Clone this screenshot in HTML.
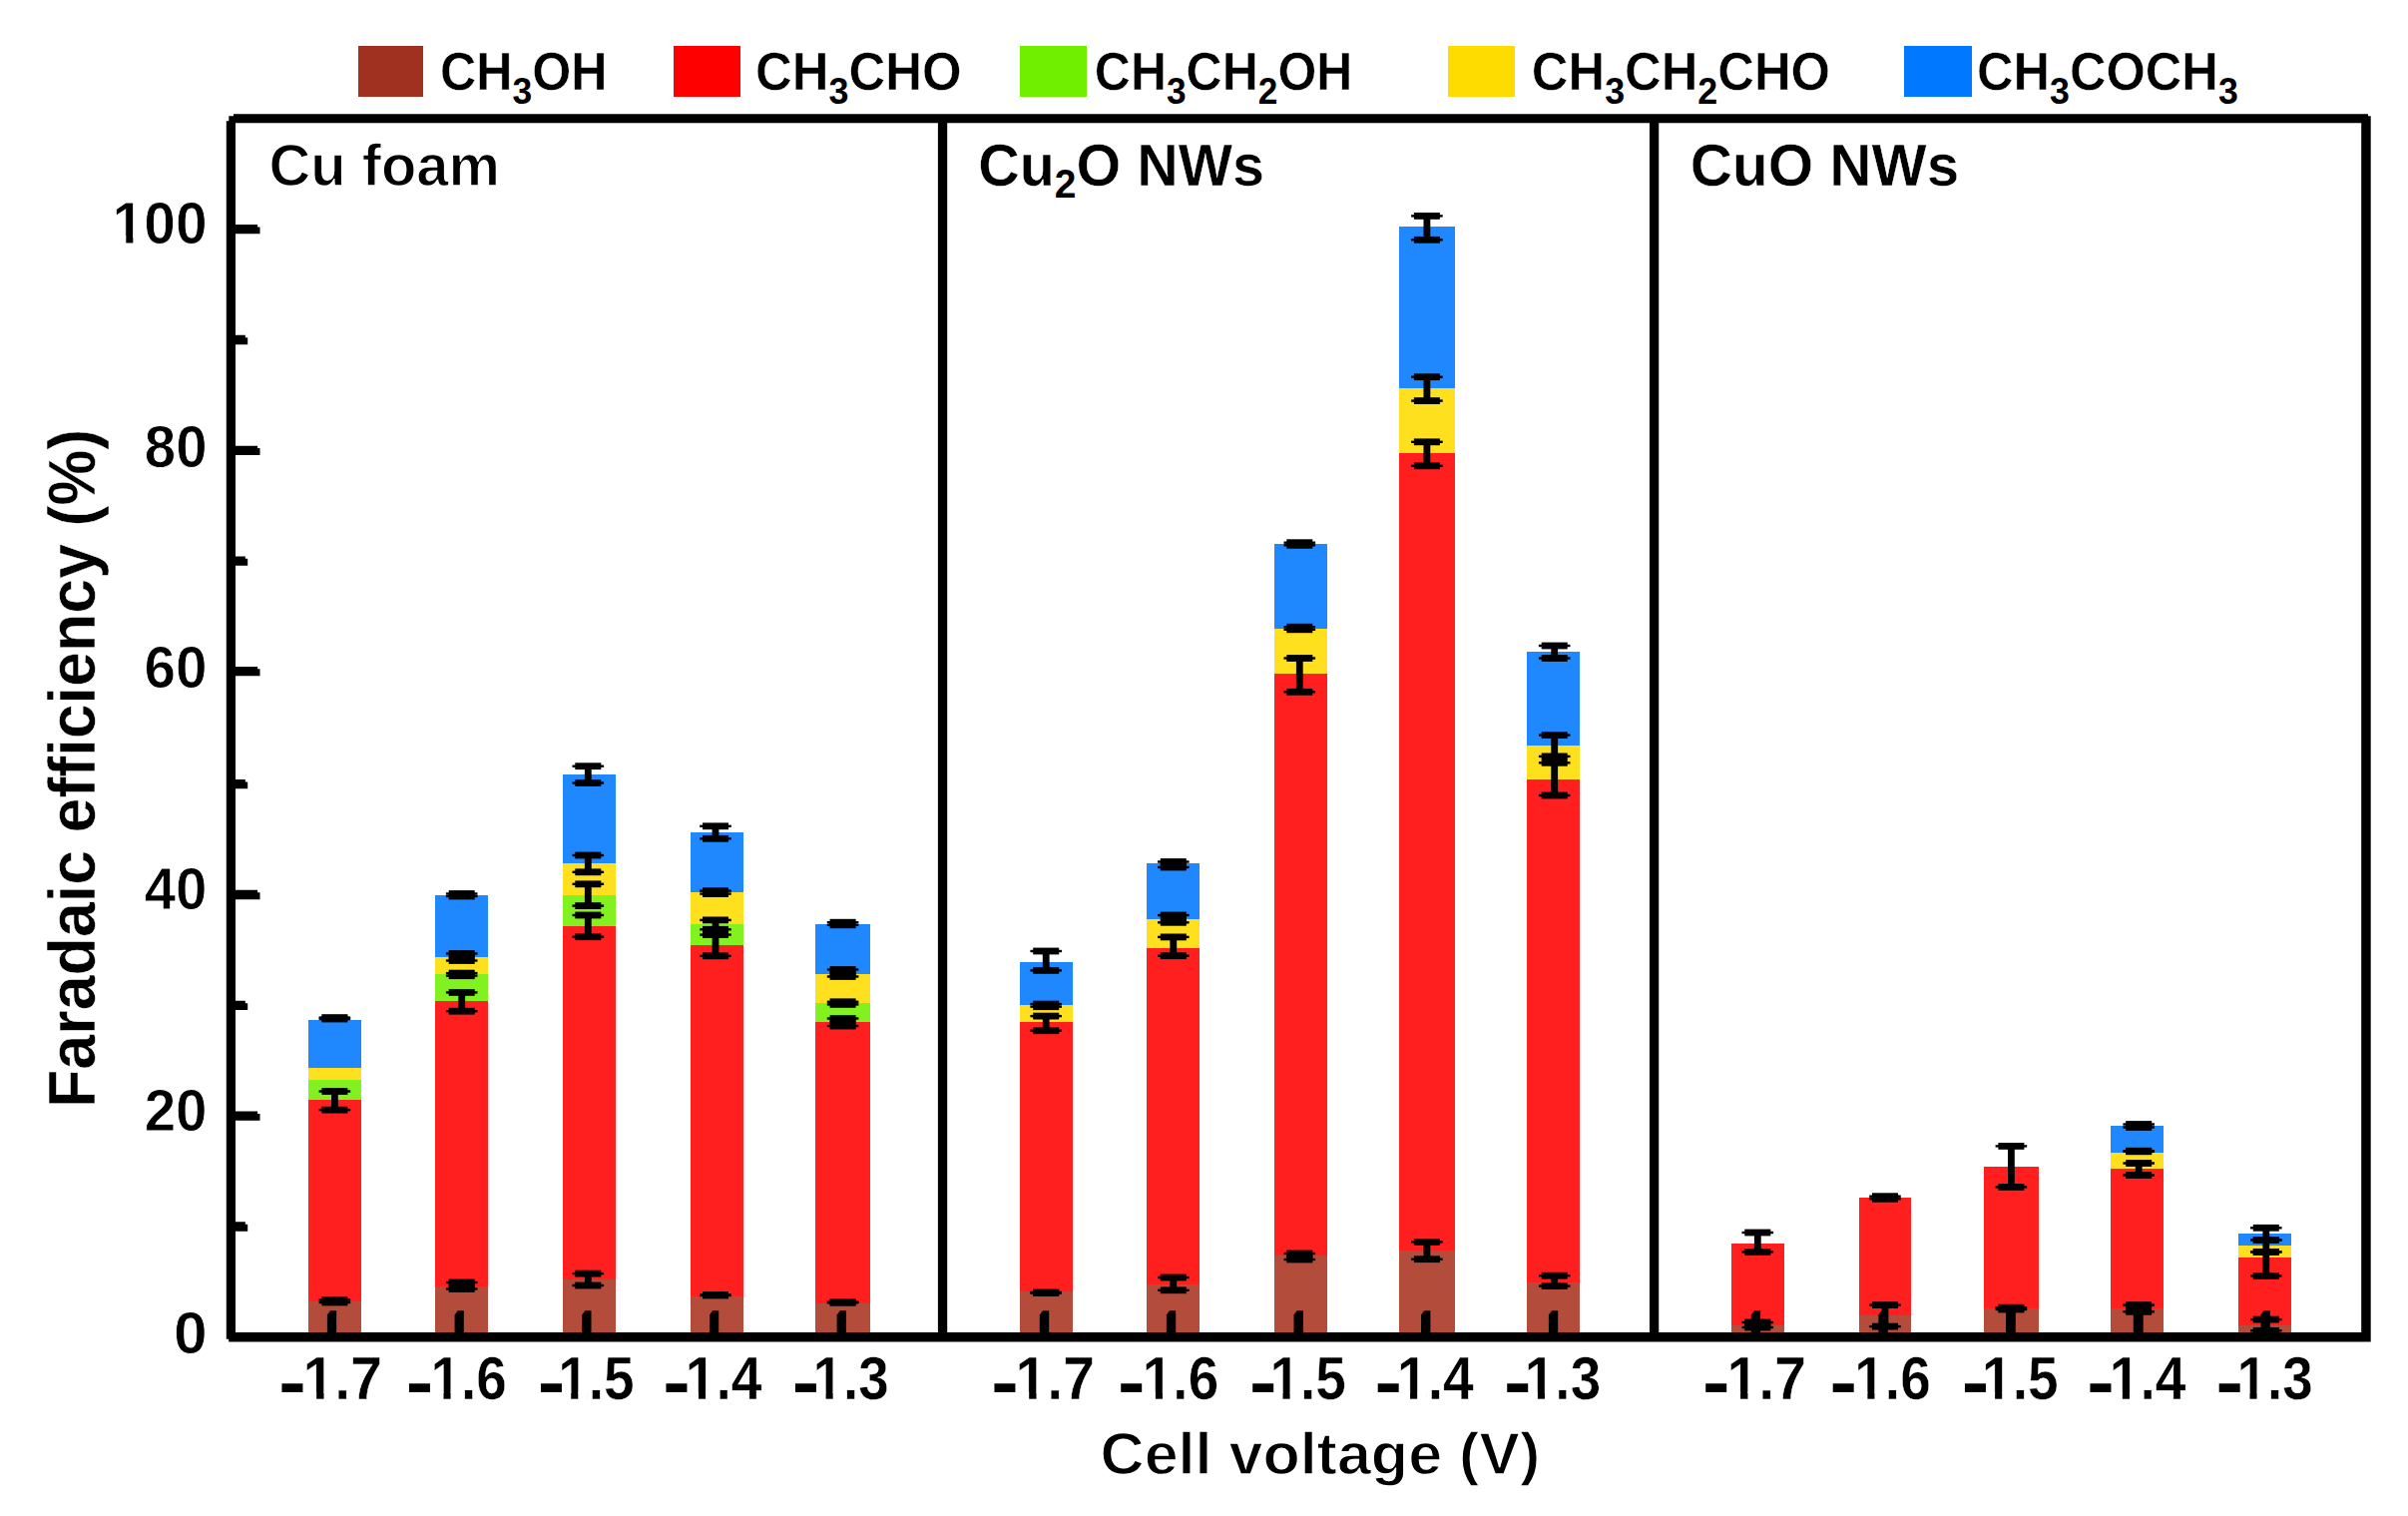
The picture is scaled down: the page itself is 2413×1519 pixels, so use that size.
<!DOCTYPE html>
<html lang="en"><head><meta charset="utf-8"><title>Faradaic efficiency chart</title><style>html,body{margin:0;padding:0;background:#fff}svg{display:block}</style></head><body>
<svg width="2413" height="1519" viewBox="0 0 2413 1519" font-family="'Liberation Sans', sans-serif" font-weight="bold" fill="#000" style="font-kerning:none">
<rect width="2413" height="1519" fill="#fff"/>
<g shape-rendering="crispEdges">
<rect x="308.7" y="1303.7" width="52.9" height="36.0" fill="#B34C3B"/>
<rect x="308.7" y="1101.5" width="52.9" height="202.2" fill="#FF1F1F"/>
<rect x="308.7" y="1082.1" width="52.9" height="19.4" fill="#81F21F"/>
<rect x="308.7" y="1069.8" width="52.9" height="12.3" fill="#FFE01F"/>
<rect x="308.7" y="1021.7" width="52.9" height="48.1" fill="#1F88FF"/>
<rect x="436.3" y="1289.4" width="52.9" height="50.3" fill="#B34C3B"/>
<rect x="436.3" y="1002.6" width="52.9" height="286.8" fill="#FF1F1F"/>
<rect x="436.3" y="976.0" width="52.9" height="26.6" fill="#81F21F"/>
<rect x="436.3" y="959.3" width="52.9" height="16.7" fill="#FFE01F"/>
<rect x="436.3" y="896.8" width="52.9" height="62.5" fill="#1F88FF"/>
<rect x="563.9" y="1282.2" width="53.1" height="57.5" fill="#B34C3B"/>
<rect x="563.9" y="927.9" width="53.1" height="354.3" fill="#FF1F1F"/>
<rect x="563.9" y="896.6" width="53.1" height="31.3" fill="#81F21F"/>
<rect x="563.9" y="865.1" width="53.1" height="31.5" fill="#FFE01F"/>
<rect x="563.9" y="776.0" width="53.1" height="89.1" fill="#1F88FF"/>
<rect x="691.7" y="1298.9" width="53.0" height="40.8" fill="#B34C3B"/>
<rect x="691.7" y="947.2" width="53.0" height="351.7" fill="#FF1F1F"/>
<rect x="691.7" y="925.6" width="53.0" height="21.6" fill="#81F21F"/>
<rect x="691.7" y="894.1" width="53.0" height="31.5" fill="#FFE01F"/>
<rect x="691.7" y="833.8" width="53.0" height="60.3" fill="#1F88FF"/>
<rect x="816.9" y="1306.1" width="55.1" height="33.6" fill="#B34C3B"/>
<rect x="816.9" y="1024.1" width="55.1" height="282.0" fill="#FF1F1F"/>
<rect x="816.9" y="1005.0" width="55.1" height="19.1" fill="#81F21F"/>
<rect x="816.9" y="976.0" width="55.1" height="29.0" fill="#FFE01F"/>
<rect x="816.9" y="925.5" width="55.1" height="50.5" fill="#1F88FF"/>
<rect x="1021.6" y="1294.2" width="53.2" height="45.5" fill="#B34C3B"/>
<rect x="1021.6" y="1024.2" width="53.2" height="270.0" fill="#FF1F1F"/>
<rect x="1021.6" y="1007.4" width="53.2" height="16.8" fill="#FFE01F"/>
<rect x="1021.6" y="963.9" width="53.2" height="43.5" fill="#1F88FF"/>
<rect x="1149.2" y="1287.0" width="52.9" height="52.7" fill="#B34C3B"/>
<rect x="1149.2" y="949.5" width="52.9" height="337.5" fill="#FF1F1F"/>
<rect x="1149.2" y="920.5" width="52.9" height="29.0" fill="#FFE01F"/>
<rect x="1149.2" y="865.2" width="52.9" height="55.3" fill="#1F88FF"/>
<rect x="1277.0" y="1258.0" width="52.9" height="81.7" fill="#B34C3B"/>
<rect x="1277.0" y="675.0" width="52.9" height="583.0" fill="#FF1F1F"/>
<rect x="1277.0" y="629.5" width="52.9" height="45.5" fill="#FFE01F"/>
<rect x="1277.0" y="545.0" width="52.9" height="84.5" fill="#1F88FF"/>
<rect x="1402.2" y="1253.2" width="55.6" height="86.5" fill="#B34C3B"/>
<rect x="1402.2" y="453.8" width="55.6" height="799.4" fill="#FF1F1F"/>
<rect x="1402.2" y="388.6" width="55.6" height="65.2" fill="#FFE01F"/>
<rect x="1402.2" y="227.0" width="55.6" height="161.6" fill="#1F88FF"/>
<rect x="1530.0" y="1284.6" width="53.0" height="55.1" fill="#B34C3B"/>
<rect x="1530.0" y="781.0" width="53.0" height="503.6" fill="#FF1F1F"/>
<rect x="1530.0" y="747.2" width="53.0" height="33.8" fill="#FFE01F"/>
<rect x="1530.0" y="653.2" width="53.0" height="94.0" fill="#1F88FF"/>
<rect x="1734.9" y="1327.7" width="52.9" height="12.0" fill="#B34C3B"/>
<rect x="1734.9" y="1246.0" width="52.9" height="81.7" fill="#FF1F1F"/>
<rect x="1862.5" y="1318.4" width="52.9" height="21.3" fill="#B34C3B"/>
<rect x="1862.5" y="1199.8" width="52.9" height="118.6" fill="#FF1F1F"/>
<rect x="1988.0" y="1311.0" width="55.0" height="28.7" fill="#B34C3B"/>
<rect x="1988.0" y="1168.8" width="55.0" height="142.2" fill="#FF1F1F"/>
<rect x="2115.4" y="1311.0" width="53.0" height="28.7" fill="#B34C3B"/>
<rect x="2115.4" y="1171.2" width="53.0" height="139.8" fill="#FF1F1F"/>
<rect x="2115.4" y="1154.5" width="53.0" height="16.7" fill="#FFE01F"/>
<rect x="2115.4" y="1128.0" width="53.0" height="26.5" fill="#1F88FF"/>
<rect x="2243.0" y="1327.8" width="52.8" height="11.9" fill="#B34C3B"/>
<rect x="2243.0" y="1260.4" width="52.8" height="67.4" fill="#FF1F1F"/>
<rect x="2243.0" y="1248.4" width="52.8" height="12.0" fill="#FFE01F"/>
<rect x="2243.0" y="1236.0" width="52.8" height="12.4" fill="#1F88FF"/>
</g>
<path d="M327.9 1339.7 V1317.5 L331.0 1313.3 H337.1 V1339.7 Z"/>
<path d="M455.6 1339.7 V1317.5 L458.7 1313.3 H464.8 V1339.7 Z"/>
<path d="M583.2 1339.7 V1317.5 L586.4 1313.3 H592.5 V1339.7 Z"/>
<path d="M711.0 1339.7 V1317.5 L714.1 1313.3 H720.2 V1339.7 Z"/>
<path d="M838.6 1339.7 V1317.5 L841.8 1313.3 H847.9 V1339.7 Z"/>
<path d="M1041.8 1339.7 V1317.5 L1045.0 1313.3 H1051.2 V1339.7 Z"/>
<path d="M1168.9 1339.7 V1317.5 L1172.1 1313.3 H1178.2 V1339.7 Z"/>
<path d="M1296.5 1339.7 V1317.5 L1299.7 1313.3 H1305.9 V1339.7 Z"/>
<path d="M1424.0 1339.7 V1317.5 L1427.2 1313.3 H1433.4 V1339.7 Z"/>
<path d="M1551.9 1339.7 V1317.5 L1555.1 1313.3 H1561.2 V1339.7 Z"/>
<path d="M1754.8 1339.7 V1317.5 L1757.9 1313.3 H1764.1 V1339.7 Z"/>
<path d="M1882.4 1339.7 V1317.5 L1885.6 1313.3 H1891.8 V1339.7 Z"/>
<path d="M2010.1 1339.7 V1317.5 L2013.3 1313.3 H2019.5 V1339.7 Z"/>
<path d="M2137.8 1339.7 V1317.5 L2141.0 1313.3 H2147.2 V1339.7 Z"/>
<path d="M2265.5 1339.7 V1317.5 L2268.7 1313.3 H2274.8 V1339.7 Z"/>
<g>
<rect x="322.4" y="1016.2" width="26" height="6.8"/><rect x="319.6" y="1018.4" width="31.6" height="2.4"/><rect x="322.4" y="1017.6" width="26" height="6.8"/><rect x="319.6" y="1019.8" width="31.6" height="2.4"/><rect x="322.4" y="1019.6" width="26" height="1.4"/>
<rect x="322.4" y="1090.1" width="26" height="6.8"/><rect x="319.6" y="1092.3" width="31.6" height="2.4"/><rect x="322.4" y="1108.7" width="26" height="6.8"/><rect x="319.6" y="1110.9" width="31.6" height="2.4"/><rect x="332.0" y="1093.5" width="6.8" height="18.6"/>
<rect x="322.4" y="1299.0" width="26" height="6.8"/><rect x="319.6" y="1301.2" width="31.6" height="2.4"/><rect x="322.4" y="1301.6" width="26" height="6.8"/><rect x="319.6" y="1303.8" width="31.6" height="2.4"/><rect x="322.4" y="1302.4" width="26" height="2.6"/>
<rect x="449.7" y="892.1" width="26" height="6.8"/><rect x="446.9" y="894.3" width="31.6" height="2.4"/><rect x="449.7" y="894.6" width="26" height="6.8"/><rect x="446.9" y="896.8" width="31.6" height="2.4"/><rect x="449.7" y="895.5" width="26" height="2.5"/>
<rect x="449.7" y="952.1" width="26" height="6.8"/><rect x="446.9" y="954.3" width="31.6" height="2.4"/><rect x="449.7" y="959.1" width="26" height="6.8"/><rect x="446.9" y="961.3" width="31.6" height="2.4"/><rect x="449.7" y="955.5" width="26" height="7.0"/>
<rect x="449.7" y="971.7" width="26" height="6.8"/><rect x="446.9" y="973.9" width="31.6" height="2.4"/><rect x="449.7" y="974.3" width="26" height="6.8"/><rect x="446.9" y="976.5" width="31.6" height="2.4"/><rect x="449.7" y="975.1" width="26" height="2.6"/>
<rect x="449.7" y="991.0" width="26" height="6.8"/><rect x="446.9" y="993.2" width="31.6" height="2.4"/><rect x="449.7" y="1009.8" width="26" height="6.8"/><rect x="446.9" y="1012.0" width="31.6" height="2.4"/><rect x="459.3" y="994.4" width="6.8" height="18.8"/>
<rect x="449.7" y="1281.6" width="26" height="6.8"/><rect x="446.9" y="1283.8" width="31.6" height="2.4"/><rect x="449.7" y="1288.1" width="26" height="6.8"/><rect x="446.9" y="1290.3" width="31.6" height="2.4"/><rect x="449.7" y="1285.0" width="26" height="6.5"/>
<rect x="576.3" y="764.3" width="26" height="6.8"/><rect x="573.5" y="766.5" width="31.6" height="2.4"/><rect x="576.3" y="781.1" width="26" height="6.8"/><rect x="573.5" y="783.3" width="31.6" height="2.4"/><rect x="585.9" y="767.7" width="6.8" height="16.8"/>
<rect x="576.3" y="853.6" width="26" height="6.8"/><rect x="573.5" y="855.8" width="31.6" height="2.4"/><rect x="576.3" y="870.4" width="26" height="6.8"/><rect x="573.5" y="872.6" width="31.6" height="2.4"/><rect x="585.9" y="857.0" width="6.8" height="16.8"/>
<rect x="576.3" y="882.4" width="26" height="6.8"/><rect x="573.5" y="884.6" width="31.6" height="2.4"/><rect x="576.3" y="904.2" width="26" height="6.8"/><rect x="573.5" y="906.4" width="31.6" height="2.4"/><rect x="585.9" y="885.8" width="6.8" height="21.8"/>
<rect x="576.3" y="913.6" width="26" height="6.8"/><rect x="573.5" y="915.8" width="31.6" height="2.4"/><rect x="576.3" y="935.3" width="26" height="6.8"/><rect x="573.5" y="937.5" width="31.6" height="2.4"/><rect x="585.9" y="917.0" width="6.8" height="21.7"/>
<rect x="576.3" y="1272.7" width="26" height="6.8"/><rect x="573.5" y="1274.9" width="31.6" height="2.4"/><rect x="576.3" y="1284.6" width="26" height="6.8"/><rect x="573.5" y="1286.8" width="31.6" height="2.4"/><rect x="585.9" y="1276.1" width="6.8" height="11.9"/>
<rect x="704.0" y="824.4" width="26" height="6.8"/><rect x="701.2" y="826.6" width="31.6" height="2.4"/><rect x="704.0" y="836.9" width="26" height="6.8"/><rect x="701.2" y="839.1" width="31.6" height="2.4"/><rect x="713.6" y="827.8" width="6.8" height="12.5"/>
<rect x="704.0" y="889.2" width="26" height="6.8"/><rect x="701.2" y="891.4" width="31.6" height="2.4"/><rect x="704.0" y="892.2" width="26" height="6.8"/><rect x="701.2" y="894.4" width="31.6" height="2.4"/><rect x="704.0" y="892.6" width="26" height="3.0"/>
<rect x="704.0" y="918.5" width="26" height="6.8"/><rect x="701.2" y="920.7" width="31.6" height="2.4"/><rect x="704.0" y="927.9" width="26" height="6.8"/><rect x="701.2" y="930.1" width="31.6" height="2.4"/><rect x="713.6" y="921.9" width="6.8" height="9.4"/>
<rect x="704.0" y="933.2" width="26" height="6.8"/><rect x="701.2" y="935.4" width="31.6" height="2.4"/><rect x="704.0" y="954.4" width="26" height="6.8"/><rect x="701.2" y="956.6" width="31.6" height="2.4"/><rect x="713.6" y="936.6" width="6.8" height="21.2"/>
<rect x="704.0" y="1294.0" width="26" height="6.8"/><rect x="701.2" y="1296.2" width="31.6" height="2.4"/><rect x="704.0" y="1294.6" width="26" height="6.8"/><rect x="701.2" y="1296.8" width="31.6" height="2.4"/><rect x="704.0" y="1297.4" width="26" height="0.6"/>
<rect x="831.6" y="920.8" width="26" height="6.8"/><rect x="828.8" y="923.0" width="31.6" height="2.4"/><rect x="831.6" y="923.4" width="26" height="6.8"/><rect x="828.8" y="925.6" width="31.6" height="2.4"/><rect x="831.6" y="924.2" width="26" height="2.6"/>
<rect x="831.6" y="968.1" width="26" height="6.8"/><rect x="828.8" y="970.3" width="31.6" height="2.4"/><rect x="831.6" y="975.1" width="26" height="6.8"/><rect x="828.8" y="977.3" width="31.6" height="2.4"/><rect x="831.6" y="971.5" width="26" height="7.0"/>
<rect x="831.6" y="1000.4" width="26" height="6.8"/><rect x="828.8" y="1002.6" width="31.6" height="2.4"/><rect x="831.6" y="1003.0" width="26" height="6.8"/><rect x="828.8" y="1005.2" width="31.6" height="2.4"/><rect x="831.6" y="1003.8" width="26" height="2.6"/>
<rect x="831.6" y="1017.1" width="26" height="6.8"/><rect x="828.8" y="1019.3" width="31.6" height="2.4"/><rect x="831.6" y="1024.6" width="26" height="6.8"/><rect x="828.8" y="1026.8" width="31.6" height="2.4"/><rect x="831.6" y="1020.5" width="26" height="7.5"/>
<rect x="831.6" y="1301.3" width="26" height="6.8"/><rect x="828.8" y="1303.5" width="31.6" height="2.4"/><rect x="831.6" y="1301.9" width="26" height="6.8"/><rect x="828.8" y="1304.1" width="31.6" height="2.4"/><rect x="831.6" y="1304.7" width="26" height="0.6"/>
<rect x="1035.2" y="949.6" width="26" height="6.8"/><rect x="1032.4" y="951.8" width="31.6" height="2.4"/><rect x="1035.2" y="969.0" width="26" height="6.8"/><rect x="1032.4" y="971.2" width="31.6" height="2.4"/><rect x="1044.8" y="953.0" width="6.8" height="19.4"/>
<rect x="1035.2" y="1002.7" width="26" height="6.8"/><rect x="1032.4" y="1004.9" width="31.6" height="2.4"/><rect x="1035.2" y="1005.3" width="26" height="6.8"/><rect x="1032.4" y="1007.5" width="31.6" height="2.4"/><rect x="1035.2" y="1006.1" width="26" height="2.6"/>
<rect x="1035.2" y="1014.7" width="26" height="6.8"/><rect x="1032.4" y="1016.9" width="31.6" height="2.4"/><rect x="1035.2" y="1029.3" width="26" height="6.8"/><rect x="1032.4" y="1031.5" width="31.6" height="2.4"/><rect x="1044.8" y="1018.1" width="6.8" height="14.6"/>
<rect x="1035.2" y="1291.6" width="26" height="6.8"/><rect x="1032.4" y="1293.8" width="31.6" height="2.4"/><rect x="1035.2" y="1292.2" width="26" height="6.8"/><rect x="1032.4" y="1294.4" width="31.6" height="2.4"/><rect x="1035.2" y="1295.0" width="26" height="0.6"/>
<rect x="1162.8" y="860.1" width="26" height="6.8"/><rect x="1160.0" y="862.3" width="31.6" height="2.4"/><rect x="1162.8" y="865.6" width="26" height="6.8"/><rect x="1160.0" y="867.8" width="31.6" height="2.4"/><rect x="1162.8" y="863.5" width="26" height="5.5"/>
<rect x="1162.8" y="913.6" width="26" height="6.8"/><rect x="1160.0" y="915.8" width="31.6" height="2.4"/><rect x="1162.8" y="920.9" width="26" height="6.8"/><rect x="1160.0" y="923.1" width="31.6" height="2.4"/><rect x="1162.8" y="917.0" width="26" height="7.3"/>
<rect x="1162.8" y="935.5" width="26" height="6.8"/><rect x="1160.0" y="937.7" width="31.6" height="2.4"/><rect x="1162.8" y="954.3" width="26" height="6.8"/><rect x="1160.0" y="956.5" width="31.6" height="2.4"/><rect x="1172.4" y="938.9" width="6.8" height="18.8"/>
<rect x="1162.8" y="1276.6" width="26" height="6.8"/><rect x="1160.0" y="1278.8" width="31.6" height="2.4"/><rect x="1162.8" y="1289.4" width="26" height="6.8"/><rect x="1160.0" y="1291.6" width="31.6" height="2.4"/><rect x="1172.4" y="1280.0" width="6.8" height="12.8"/>
<rect x="1289.3" y="540.3" width="26" height="6.8"/><rect x="1286.5" y="542.5" width="31.6" height="2.4"/><rect x="1289.3" y="542.9" width="26" height="6.8"/><rect x="1286.5" y="545.1" width="31.6" height="2.4"/><rect x="1289.3" y="543.7" width="26" height="2.6"/>
<rect x="1289.3" y="624.8" width="26" height="6.8"/><rect x="1286.5" y="627.0" width="31.6" height="2.4"/><rect x="1289.3" y="627.4" width="26" height="6.8"/><rect x="1286.5" y="629.6" width="31.6" height="2.4"/><rect x="1289.3" y="628.2" width="26" height="2.6"/>
<rect x="1289.3" y="656.1" width="26" height="6.8"/><rect x="1286.5" y="658.3" width="31.6" height="2.4"/><rect x="1289.3" y="689.9" width="26" height="6.8"/><rect x="1286.5" y="692.1" width="31.6" height="2.4"/><rect x="1298.9" y="659.5" width="6.8" height="33.8"/>
<rect x="1289.3" y="1252.6" width="26" height="6.8"/><rect x="1286.5" y="1254.8" width="31.6" height="2.4"/><rect x="1289.3" y="1258.6" width="26" height="6.8"/><rect x="1286.5" y="1260.8" width="31.6" height="2.4"/><rect x="1289.3" y="1256.0" width="26" height="6.0"/>
<rect x="1416.9" y="213.0" width="26" height="6.8"/><rect x="1414.1" y="215.2" width="31.6" height="2.4"/><rect x="1416.9" y="236.9" width="26" height="6.8"/><rect x="1414.1" y="239.1" width="31.6" height="2.4"/><rect x="1426.5" y="216.4" width="6.8" height="23.9"/>
<rect x="1416.9" y="374.3" width="26" height="6.8"/><rect x="1414.1" y="376.5" width="31.6" height="2.4"/><rect x="1416.9" y="398.2" width="26" height="6.8"/><rect x="1414.1" y="400.4" width="31.6" height="2.4"/><rect x="1426.5" y="377.7" width="6.8" height="23.9"/>
<rect x="1416.9" y="439.4" width="26" height="6.8"/><rect x="1414.1" y="441.6" width="31.6" height="2.4"/><rect x="1416.9" y="463.4" width="26" height="6.8"/><rect x="1414.1" y="465.6" width="31.6" height="2.4"/><rect x="1426.5" y="442.8" width="6.8" height="24.0"/>
<rect x="1416.9" y="1241.0" width="26" height="6.8"/><rect x="1414.1" y="1243.2" width="31.6" height="2.4"/><rect x="1416.9" y="1258.3" width="26" height="6.8"/><rect x="1414.1" y="1260.5" width="31.6" height="2.4"/><rect x="1426.5" y="1244.4" width="6.8" height="17.3"/>
<rect x="1544.7" y="643.6" width="26" height="6.8"/><rect x="1541.9" y="645.8" width="31.6" height="2.4"/><rect x="1544.7" y="656.1" width="26" height="6.8"/><rect x="1541.9" y="658.3" width="31.6" height="2.4"/><rect x="1554.3" y="647.0" width="6.8" height="12.5"/>
<rect x="1544.7" y="733.2" width="26" height="6.8"/><rect x="1541.9" y="735.4" width="31.6" height="2.4"/><rect x="1544.7" y="754.5" width="26" height="6.8"/><rect x="1541.9" y="756.7" width="31.6" height="2.4"/><rect x="1554.3" y="736.6" width="6.8" height="21.3"/>
<rect x="1544.7" y="760.9" width="26" height="6.8"/><rect x="1541.9" y="763.1" width="31.6" height="2.4"/><rect x="1544.7" y="793.6" width="26" height="6.8"/><rect x="1541.9" y="795.8" width="31.6" height="2.4"/><rect x="1554.3" y="764.3" width="6.8" height="32.7"/>
<rect x="1544.7" y="1274.8" width="26" height="6.8"/><rect x="1541.9" y="1277.0" width="31.6" height="2.4"/><rect x="1544.7" y="1285.2" width="26" height="6.8"/><rect x="1541.9" y="1287.4" width="31.6" height="2.4"/><rect x="1554.3" y="1278.2" width="6.8" height="10.4"/>
<rect x="1748.3" y="1231.6" width="26" height="6.8"/><rect x="1745.5" y="1233.8" width="31.6" height="2.4"/><rect x="1748.3" y="1251.0" width="26" height="6.8"/><rect x="1745.5" y="1253.2" width="31.6" height="2.4"/><rect x="1757.9" y="1235.0" width="6.8" height="19.4"/>
<rect x="1748.3" y="1321.6" width="26" height="6.8"/><rect x="1745.5" y="1323.8" width="31.6" height="2.4"/><rect x="1748.3" y="1326.6" width="26" height="6.8"/><rect x="1745.5" y="1328.8" width="31.6" height="2.4"/><rect x="1748.3" y="1325.0" width="26" height="5.0"/>
<rect x="1876.0" y="1195.3" width="26" height="6.8"/><rect x="1873.2" y="1197.5" width="31.6" height="2.4"/><rect x="1876.0" y="1197.9" width="26" height="6.8"/><rect x="1873.2" y="1200.1" width="31.6" height="2.4"/><rect x="1876.0" y="1198.7" width="26" height="2.6"/>
<rect x="1876.0" y="1304.2" width="26" height="6.8"/><rect x="1873.2" y="1306.4" width="31.6" height="2.4"/><rect x="1876.0" y="1325.7" width="26" height="6.8"/><rect x="1873.2" y="1327.9" width="31.6" height="2.4"/><rect x="1885.6" y="1307.6" width="6.8" height="21.5"/>
<rect x="2002.4" y="1145.0" width="26" height="6.8"/><rect x="1999.6" y="1147.2" width="31.6" height="2.4"/><rect x="2002.4" y="1186.0" width="26" height="6.8"/><rect x="1999.6" y="1188.2" width="31.6" height="2.4"/><rect x="2012.0" y="1148.4" width="6.8" height="41.0"/>
<rect x="2130.2" y="1123.1" width="26" height="6.8"/><rect x="2127.4" y="1125.3" width="31.6" height="2.4"/><rect x="2130.2" y="1126.1" width="26" height="6.8"/><rect x="2127.4" y="1128.3" width="31.6" height="2.4"/><rect x="2130.2" y="1126.5" width="26" height="3.0"/>
<rect x="2130.2" y="1149.8" width="26" height="6.8"/><rect x="2127.4" y="1152.0" width="31.6" height="2.4"/><rect x="2130.2" y="1150.4" width="26" height="6.8"/><rect x="2127.4" y="1152.6" width="31.6" height="2.4"/><rect x="2130.2" y="1153.2" width="26" height="0.6"/>
<rect x="2130.2" y="1162.1" width="26" height="6.8"/><rect x="2127.4" y="1164.3" width="31.6" height="2.4"/><rect x="2130.2" y="1174.1" width="26" height="6.8"/><rect x="2127.4" y="1176.3" width="31.6" height="2.4"/><rect x="2139.8" y="1165.5" width="6.8" height="12.0"/>
<rect x="2257.8" y="1226.9" width="26" height="6.8"/><rect x="2255.0" y="1229.1" width="31.6" height="2.4"/><rect x="2257.8" y="1239.0" width="26" height="6.8"/><rect x="2255.0" y="1241.2" width="31.6" height="2.4"/><rect x="2267.4" y="1230.3" width="6.8" height="12.1"/>
<rect x="2257.8" y="1239.0" width="26" height="6.8"/><rect x="2255.0" y="1241.2" width="31.6" height="2.4"/><rect x="2257.8" y="1251.0" width="26" height="6.8"/><rect x="2255.0" y="1253.2" width="31.6" height="2.4"/><rect x="2267.4" y="1242.4" width="6.8" height="12.0"/>
<rect x="2257.8" y="1251.0" width="26" height="6.8"/><rect x="2255.0" y="1253.2" width="31.6" height="2.4"/><rect x="2257.8" y="1275.0" width="26" height="6.8"/><rect x="2255.0" y="1277.2" width="31.6" height="2.4"/><rect x="2267.4" y="1254.4" width="6.8" height="24.0"/>
<rect x="2257.8" y="1318.7" width="26" height="6.8"/><rect x="2255.0" y="1320.9" width="31.6" height="2.4"/><rect x="2257.8" y="1329.9" width="26" height="6.8"/><rect x="2255.0" y="1332.1" width="31.6" height="2.4"/><rect x="2267.4" y="1322.1" width="6.8" height="11.2"/>
<rect x="2002.4" y="1306.8" width="26" height="6.8"/><rect x="1999.6" y="1309.0" width="31.6" height="2.4"/><rect x="2002.4" y="1308.6" width="26" height="6.8"/><rect x="1999.6" y="1310.8" width="31.6" height="2.4"/><rect x="2010.2" y="1311" width="9.4" height="29"/>
<rect x="2130.2" y="1304.2" width="26" height="6.8"/><rect x="2127.4" y="1306.4" width="31.6" height="2.4"/><rect x="2130.2" y="1310.9" width="26" height="6.8"/><rect x="2127.4" y="1313.1" width="31.6" height="2.4"/><rect x="2138.0" y="1307.6" width="9.6" height="33"/>
</g>
<path fill-rule="evenodd" d="M226.8 121.2H229.3V116.3H234V114.2H2373V116.3H2375.7V1344.5H229.2V1341.8H226.8Z M236 123.2H2366.2V1335H236Z"/>
<rect x="939.90" y="120" width="9.3" height="1218"/>
<rect x="1652.95" y="120" width="9.3" height="1218"/>
<path d="M232 225.05H258.1V227.45H260.5V234.35H232Z"/>
<path d="M232 335.85H245.8V338.25H248.2V345.15H232Z"/>
<path d="M232 446.65H258.1V449.05H260.5V455.95H232Z"/>
<path d="M232 557.45H245.8V559.85H248.2V566.75H232Z"/>
<path d="M232 667.95H258.1V670.35H260.5V677.25H232Z"/>
<path d="M232 781.05H245.8V783.45H248.2V790.35H232Z"/>
<path d="M232 891.85H258.1V894.25H260.5V901.15H232Z"/>
<path d="M232 1002.75H245.8V1005.15H248.2V1012.05H232Z"/>
<path d="M232 1113.55H258.1V1115.95H260.5V1122.85H232Z"/>
<path d="M232 1224.35H245.8V1226.75H248.2V1233.65H232Z"/>
<g transform="translate(112.62,243.6) scale(0.9545,1)"><text font-size="59.6" stroke="#fff" stroke-width="0.8">100</text><rect x="3.17" y="-7.28" width="11.14" height="8.28" fill="#fff"/><rect x="21.69" y="-7.28" width="10.38" height="8.28" fill="#fff"/></g>
<g transform="translate(144.81,467.5) scale(0.9458,1)"><text font-size="59.6" stroke="#fff" stroke-width="0.8">80</text></g>
<g transform="translate(144.53,689.2) scale(0.9503,1)"><text font-size="59.6" stroke="#fff" stroke-width="0.8">60</text></g>
<g transform="translate(144.75,910.5) scale(0.9468,1)"><text font-size="59.6" stroke="#fff" stroke-width="0.8">40</text></g>
<g transform="translate(144.64,1132.6) scale(0.9485,1)"><text font-size="59.6" stroke="#fff" stroke-width="0.8">20</text></g>
<g transform="translate(174.00,1355.9) scale(1.0161,1)"><text font-size="59.6" stroke="#fff" stroke-width="0.8">0</text></g>
<g transform="translate(303.60,1402.4) scale(0.9426,1)"><text font-size="60.6" stroke="#fff" stroke-width="0.5">1.7</text><rect x="3.23" y="-7.40" width="11.17" height="8.40" fill="#fff"/><rect x="22.21" y="-7.40" width="10.40" height="8.40" fill="#fff"/></g>
<text transform="translate(280.7,1416.9) scale(0.748,1.42)" font-size="56">−</text>
<g transform="translate(431.44,1402.4) scale(0.9062,1)"><text font-size="60.6" stroke="#fff" stroke-width="0.5">1.6</text><rect x="3.23" y="-7.40" width="11.17" height="8.40" fill="#fff"/><rect x="22.21" y="-7.40" width="10.40" height="8.40" fill="#fff"/></g>
<text transform="translate(408.2,1416.9) scale(0.748,1.42)" font-size="56">−</text>
<g transform="translate(559.13,1402.4) scale(0.9081,1)"><text font-size="60.6" stroke="#fff" stroke-width="0.5">1.5</text><rect x="3.23" y="-7.40" width="11.17" height="8.40" fill="#fff"/><rect x="22.21" y="-7.40" width="10.40" height="8.40" fill="#fff"/></g>
<text transform="translate(540.3,1416.9) scale(0.748,1.42)" font-size="56">−</text>
<g transform="translate(686.82,1402.4) scale(0.9114,1)"><text font-size="60.6" stroke="#fff" stroke-width="0.5">1.4</text><rect x="3.23" y="-7.40" width="11.17" height="8.40" fill="#fff"/><rect x="22.21" y="-7.40" width="10.40" height="8.40" fill="#fff"/></g>
<text transform="translate(665.8,1416.9) scale(0.748,1.42)" font-size="56">−</text>
<g transform="translate(814.54,1402.4) scale(0.9062,1)"><text font-size="60.6" stroke="#fff" stroke-width="0.5">1.3</text><rect x="3.23" y="-7.40" width="11.17" height="8.40" fill="#fff"/><rect x="22.21" y="-7.40" width="10.40" height="8.40" fill="#fff"/></g>
<text transform="translate(795.2,1416.9) scale(0.748,1.42)" font-size="56">−</text>
<g transform="translate(1017.60,1402.4) scale(0.9426,1)"><text font-size="60.6" stroke="#fff" stroke-width="0.5">1.7</text><rect x="3.23" y="-7.40" width="11.17" height="8.40" fill="#fff"/><rect x="22.21" y="-7.40" width="10.40" height="8.40" fill="#fff"/></g>
<text transform="translate(994.7,1416.9) scale(0.748,1.42)" font-size="56">−</text>
<g transform="translate(1144.84,1402.4) scale(0.9062,1)"><text font-size="60.6" stroke="#fff" stroke-width="0.5">1.6</text><rect x="3.23" y="-7.40" width="11.17" height="8.40" fill="#fff"/><rect x="22.21" y="-7.40" width="10.40" height="8.40" fill="#fff"/></g>
<text transform="translate(1121.6,1416.9) scale(0.748,1.42)" font-size="56">−</text>
<g transform="translate(1272.43,1402.4) scale(0.9081,1)"><text font-size="60.6" stroke="#fff" stroke-width="0.5">1.5</text><rect x="3.23" y="-7.40" width="11.17" height="8.40" fill="#fff"/><rect x="22.21" y="-7.40" width="10.40" height="8.40" fill="#fff"/></g>
<text transform="translate(1253.6,1416.9) scale(0.748,1.42)" font-size="56">−</text>
<g transform="translate(1399.92,1402.4) scale(0.9114,1)"><text font-size="60.6" stroke="#fff" stroke-width="0.5">1.4</text><rect x="3.23" y="-7.40" width="11.17" height="8.40" fill="#fff"/><rect x="22.21" y="-7.40" width="10.40" height="8.40" fill="#fff"/></g>
<text transform="translate(1378.9,1416.9) scale(0.748,1.42)" font-size="56">−</text>
<g transform="translate(1527.84,1402.4) scale(0.9062,1)"><text font-size="60.6" stroke="#fff" stroke-width="0.5">1.3</text><rect x="3.23" y="-7.40" width="11.17" height="8.40" fill="#fff"/><rect x="22.21" y="-7.40" width="10.40" height="8.40" fill="#fff"/></g>
<text transform="translate(1508.5,1416.9) scale(0.748,1.42)" font-size="56">−</text>
<g transform="translate(1730.50,1402.4) scale(0.9426,1)"><text font-size="60.6" stroke="#fff" stroke-width="0.5">1.7</text><rect x="3.23" y="-7.40" width="11.17" height="8.40" fill="#fff"/><rect x="22.21" y="-7.40" width="10.40" height="8.40" fill="#fff"/></g>
<text transform="translate(1707.6,1416.9) scale(0.748,1.42)" font-size="56">−</text>
<g transform="translate(1858.34,1402.4) scale(0.9062,1)"><text font-size="60.6" stroke="#fff" stroke-width="0.5">1.6</text><rect x="3.23" y="-7.40" width="11.17" height="8.40" fill="#fff"/><rect x="22.21" y="-7.40" width="10.40" height="8.40" fill="#fff"/></g>
<text transform="translate(1835.1,1416.9) scale(0.748,1.42)" font-size="56">−</text>
<g transform="translate(1986.03,1402.4) scale(0.9081,1)"><text font-size="60.6" stroke="#fff" stroke-width="0.5">1.5</text><rect x="3.23" y="-7.40" width="11.17" height="8.40" fill="#fff"/><rect x="22.21" y="-7.40" width="10.40" height="8.40" fill="#fff"/></g>
<text transform="translate(1967.2,1416.9) scale(0.748,1.42)" font-size="56">−</text>
<g transform="translate(2113.72,1402.4) scale(0.9114,1)"><text font-size="60.6" stroke="#fff" stroke-width="0.5">1.4</text><rect x="3.23" y="-7.40" width="11.17" height="8.40" fill="#fff"/><rect x="22.21" y="-7.40" width="10.40" height="8.40" fill="#fff"/></g>
<text transform="translate(2092.7,1416.9) scale(0.748,1.42)" font-size="56">−</text>
<g transform="translate(2241.44,1402.4) scale(0.9062,1)"><text font-size="60.6" stroke="#fff" stroke-width="0.5">1.3</text><rect x="3.23" y="-7.40" width="11.17" height="8.40" fill="#fff"/><rect x="22.21" y="-7.40" width="10.40" height="8.40" fill="#fff"/></g>
<text transform="translate(2222.1,1416.9) scale(0.748,1.42)" font-size="56">−</text>
<g transform="translate(1102.60,1476.7) scale(1.0205,1)"><text font-size="59.8" stroke="#fff" stroke-width="1.3">Cell voltage (V)</text></g>
<g transform="translate(94.6,1110.00) rotate(-90) scale(0.9313,1)"><text font-size="67.4" stroke="#fff" stroke-width="0.5">Faradaic efficiency (%)</text></g>
<g transform="translate(269.43,186.0) scale(0.9681,1)"><text font-size="59.8" stroke="#fff" stroke-width="1.3">Cu foam</text></g>
<g transform="translate(980.24,186.0) scale(0.9613,1)"><text font-size="59.8" stroke="#fff" stroke-width="0.5"><tspan font-size="59.8">Cu</tspan><tspan font-size="40.5" dy="11.8" stroke-width="0">2</tspan><tspan font-size="59.8" dy="-11.8">O NWs</tspan></text></g>
<g transform="translate(1693.80,186.0) scale(0.9770,1)"><text font-size="59.8" stroke="#fff" stroke-width="0.5">CuO NWs</text></g>
<rect x="359.2" y="46.4" width="65.0" height="50.2" fill="#A03020" shape-rendering="crispEdges"/>
<g transform="translate(440.94,89.7) scale(0.9427,1)"><text font-size="53.3" stroke="#fff" stroke-width="0.5"><tspan font-size="53.3">CH</tspan><tspan font-size="37.6" dy="14.2" stroke-width="0">3</tspan><tspan font-size="53.3" dy="-14.2">OH</tspan></text></g>
<rect x="675.0" y="46.4" width="67.1" height="50.2" fill="#FF0000" shape-rendering="crispEdges"/>
<g transform="translate(757.01,89.7) scale(0.9551,1)"><text font-size="53.3" stroke="#fff" stroke-width="0.5"><tspan font-size="53.3">CH</tspan><tspan font-size="37.6" dy="14.2" stroke-width="0">3</tspan><tspan font-size="53.3" dy="-14.2">CHO</tspan></text></g>
<rect x="1021.9" y="46.4" width="67.2" height="50.2" fill="#70F000" shape-rendering="crispEdges"/>
<g transform="translate(1096.85,89.7) scale(0.9375,1)"><text font-size="53.3" stroke="#fff" stroke-width="0.5"><tspan font-size="53.3">CH</tspan><tspan font-size="37.6" dy="14.2" stroke-width="0">3</tspan><tspan font-size="53.3" dy="-14.2">CH</tspan><tspan font-size="37.6" dy="14.2" stroke-width="0">2</tspan><tspan font-size="53.3" dy="-14.2">OH</tspan></text></g>
<rect x="1450.7" y="46.4" width="67.4" height="50.2" fill="#FFDC00" shape-rendering="crispEdges"/>
<g transform="translate(1534.82,89.7) scale(0.9525,1)"><text font-size="53.3" stroke="#fff" stroke-width="0.5"><tspan font-size="53.3">CH</tspan><tspan font-size="37.6" dy="14.2" stroke-width="0">3</tspan><tspan font-size="53.3" dy="-14.2">CH</tspan><tspan font-size="37.6" dy="14.2" stroke-width="0">2</tspan><tspan font-size="53.3" dy="-14.2">CHO</tspan></text></g>
<rect x="1908.4" y="46.4" width="67.4" height="50.2" fill="#0078FF" shape-rendering="crispEdges"/>
<g transform="translate(1981.02,89.7) scale(0.9493,1)"><text font-size="53.3" stroke="#fff" stroke-width="0.5"><tspan font-size="53.3">CH</tspan><tspan font-size="37.6" dy="14.2" stroke-width="0">3</tspan><tspan font-size="53.3" dy="-14.2">COCH</tspan><tspan font-size="37.6" dy="14.2" stroke-width="0">3</tspan></text></g>
</svg>
</body></html>
